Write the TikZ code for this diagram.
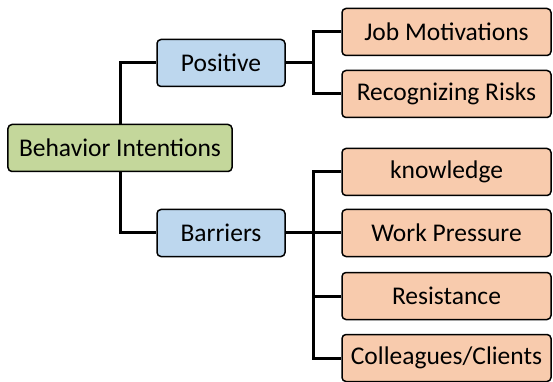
\documentclass[tikz,border=0pt]{standalone}
\usepackage{fontspec}
\setmainfont{Carlito}
\usepackage{tikz}
\usetikzlibrary{positioning}

\definecolor{rootgreen}{RGB}{196,215,155}
\definecolor{groupblue}{RGB}{189,215,238}
\definecolor{leaforange}{RGB}{248,203,173}

\tikzset{
  box/.style={draw=black, line width=1.5pt, rounded corners=4pt,
    minimum height=47pt, inner sep=2pt,
    font=\fontsize{25.5}{30}\selectfont},
  rootbox/.style={box, fill=rootgreen, minimum width=224pt},
  groupbox/.style={box, fill=groupblue, minimum width=128pt},
  leafbox/.style={box, fill=leaforange, minimum width=209pt},
  link/.style={draw=black, line width=3pt}
}

\begin{document}
\begin{tikzpicture}[node distance=62pt,on grid]
    \useasboundingbox (-120pt,148pt) rectangle (433pt,-234pt);

    \node[rootbox] (intent) {Behavior Intentions};
    \node[groupbox] (pos) [above right=85pt and 101pt of intent] {Positive};
    \node[groupbox] (bar) [below right=85pt and 101pt of intent] {Barriers};

    \node[leafbox] (job)  [above right=31pt and 225.5pt of pos] {Job Motivations};
    \node[leafbox] (risk) [below=of job] {Recognizing Risks};

    \node[leafbox] (press)  [right=225.5pt of bar] {Work Pressure};
    \node[leafbox] (know)   [above=61pt of press] {knowledge};
    \node[leafbox] (resist) [below=63pt of press] {Resistance};
    \node[leafbox] (coll)   [below=of resist] {Colleagues/Clients};

    % forks between the middle column and the leaves
    \coordinate (posfork) at ([xshift=28pt]pos.east);
    \coordinate (barfork) at ([xshift=28pt]bar.east);

    \path[link] (intent.north) |- (pos.west);
    \path[link] (intent.south) |- (bar.west);

    \path[link] (pos.east) -- (posfork);
    \path[link] (posfork) |- (job.west);
    \path[link] (posfork) |- (risk.west);

    \path[link] (bar.east) -- (press.west);
    \path[link] (barfork) |- (know.west);
    \path[link] (barfork) |- (resist.west);
    \path[link] (barfork) |- (coll.west);
\end{tikzpicture}
\end{document}
